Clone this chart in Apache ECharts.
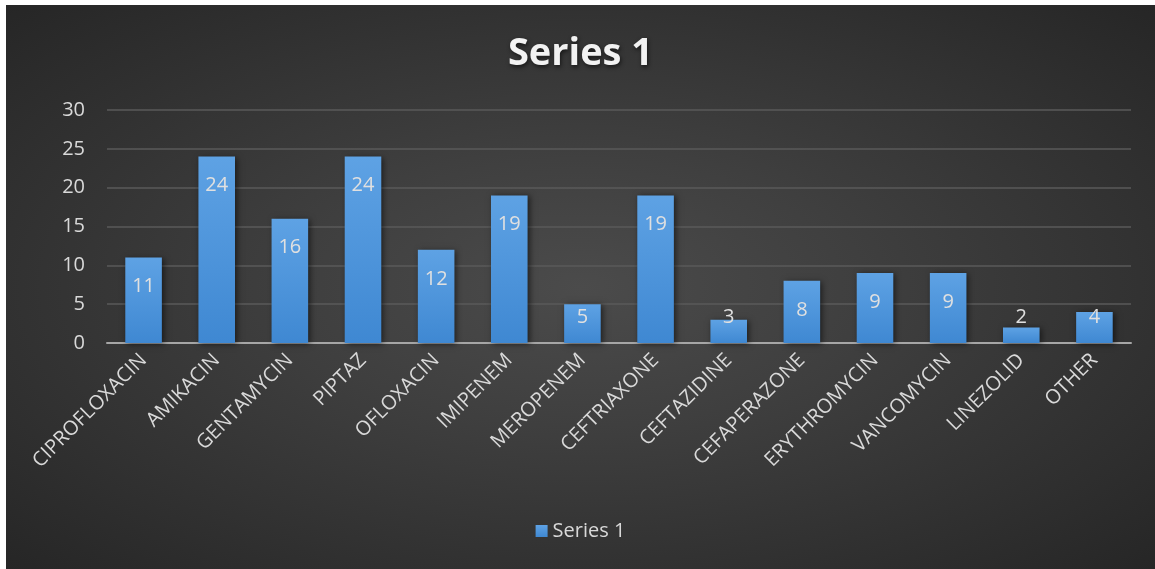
<!DOCTYPE html>
<html>
<head>
<meta charset="utf-8">
<script src="https://cdn.jsdelivr.net/npm/echarts@6/dist/echarts.min.js"></script>
<style>
  html, body { margin: 0; padding: 0; background: #ffffff; }
  #chart {
    position: absolute; left: 6px; top: 5px; width: 1149px; height: 564px;
    background: radial-gradient(ellipse farthest-corner at 50% 50%, #4b4b4b 0%, #3f3f3f 35%, #262626 100%);
  }
</style>
</head>
<body>
<div id="chart"></div>
<script>
// Antibiotic counts
const categories = ['CIPROFLOXACIN', 'AMIKACIN', 'GENTAMYCIN', 'PIPTAZ', 'OFLOXACIN', 'IMIPENEM',
  'MEROPENEM', 'CEFTRIAXONE', 'CEFTAZIDINE', 'CEFAPERAZONE', 'ERYTHROMYCIN', 'VANCOMYCIN',
  'LINEZOLID', 'OTHER'];
const series1 = [11, 24, 16, 24, 12, 19, 5, 19, 3, 8, 9, 9, 2, 4];
const yTicks = { min: 0, max: 30, interval: 5 };

const font = '"Open Sans", "Liberation Sans", sans-serif';
const textColor = '#d9d9d9';

// Short bars get their value label lifted off the axis instead of hanging from the top
const barData = series1.map(v => ({
  value: v,
  label: v >= 7
    ? { position: 'insideTop', distance: 19 }
    : { position: 'insideBottom', distance: 16 }
}));

const chart = echarts.init(document.getElementById('chart'), null, { renderer: 'canvas' });
chart.setOption({
  backgroundColor: 'transparent',
  animation: false,
  title: {
    text: 'Series 1',
    left: 'center',
    top: 25,
    textStyle: {
      fontFamily: font, fontSize: 38, fontWeight: 'bold', color: '#f2f2f2',
      textShadowColor: 'rgba(0,0,0,0.6)', textShadowBlur: 4, textShadowOffsetX: 1, textShadowOffsetY: 2
    }
  },
  legend: {
    bottom: 23,
    left: 'center',
    itemWidth: 12, itemHeight: 12, itemGap: 6,
    icon: 'rect',
    textStyle: { fontFamily: font, fontSize: 20, color: textColor },
    data: ['Series 1']
  },
  grid: { left: 101, right: 24, top: 105, bottom: 226, containLabel: false },
  xAxis: {
    type: 'category',
    data: categories,
    axisLine: { lineStyle: { color: '#a6a6a6', width: 2 } },
    axisTick: { show: false },
    axisLabel: { rotate: 45, margin: 14, interval: 0, fontFamily: font, fontSize: 20, color: textColor }
  },
  yAxis: {
    type: 'value',
    min: yTicks.min, max: yTicks.max, interval: yTicks.interval,
    axisLine: { show: false },
    axisTick: { show: false },
    splitLine: { lineStyle: { color: '#5a5a5a', width: 1.5 } },
    axisLabel: { margin: 22, fontFamily: font, fontSize: 20, color: textColor }
  },
  series: [{
    name: 'Series 1',
    type: 'bar',
    data: barData,
    barWidth: '50%',
    itemStyle: {
      color: new echarts.graphic.LinearGradient(0, 0, 0, 1, [
        { offset: 0, color: '#5ea2e4' },
        { offset: 1, color: '#3f88d2' }
      ]),
      shadowColor: 'rgba(0,0,0,0.55)', shadowBlur: 6, shadowOffsetX: 2, shadowOffsetY: 1
    },
    label: {
      show: true,
      fontFamily: font, fontSize: 20, color: '#e0e0e0'
    }
  }]
});
</script>
</body>
</html>
